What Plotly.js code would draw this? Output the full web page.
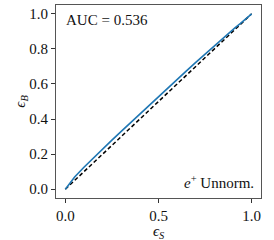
<!DOCTYPE html>
<html>
<head>
<meta charset="utf-8">
<script src="https://cdn.plot.ly/plotly-3.0.1.min.js"></script>
<style>html,body{margin:0;padding:0;background:#fff;}#chart{width:274px;height:240px;}</style>
</head>
<body>
<div id="chart"></div>
<script>
const sigEff = [0, 0.02, 0.05, 0.1, 0.15, 0.2, 0.25, 0.3, 0.35, 0.4, 0.45, 0.5, 0.55, 0.6, 0.65, 0.7, 0.75, 0.8, 0.85, 0.88, 0.91, 0.94, 0.96, 0.98, 1.0];
const bkgEff = [0, 0.03, 0.07, 0.125, 0.178, 0.23, 0.28, 0.33, 0.38, 0.43, 0.48, 0.53, 0.578, 0.627, 0.675, 0.723, 0.77, 0.818, 0.866, 0.895, 0.92, 0.945, 0.965, 0.985, 1.0];
const diagX = [0, 1];
const diagY = [0, 1];
const aucText = "AUC = 0.536";
const tagText = "<i>e</i><sup>+</sup> Unnorm.";
const xTitle = "<i>ϵ</i><sub><i>S</i></sub>";
const yTitle = "<i>ϵ</i><sub><i>B</i></sub>";
const xTicks = [0, 0.5, 1.0];
const xTickText = ["0.0", "0.5", "1.0"];
const yTicks = [0, 0.2, 0.4, 0.6, 0.8, 1.0];
const yTickText = ["0.0", "0.2", "0.4", "0.6", "0.8", "1.0"];

const font = {family: "Liberation Serif, serif", size: 15, color: "#111"};

const data = [
  {x: diagX, y: diagY, mode: "lines", line: {color: "#000", width: 1.5, dash: "4px,2.5px"}, hoverinfo: "skip"},
  {x: sigEff, y: bkgEff, mode: "lines", line: {color: "#1f77b4", width: 1.6}, hoverinfo: "skip"}
];

const axisCommon = {
  showline: true, mirror: true, linecolor: "#555", linewidth: 1,
  ticks: "outside", ticklen: 4, tickwidth: 1, tickcolor: "#333",
  showgrid: false, zeroline: false, tickfont: font
};

const layout = {
  width: 274, height: 240,
  margin: {l: 56, r: 13, t: 5, b: 42},
  paper_bgcolor: "#fff", plot_bgcolor: "#fff",
  showlegend: false,
  font: font,
  xaxis: Object.assign({}, axisCommon, {
    range: [-0.05, 1.05], tickvals: xTicks, ticktext: xTickText
  }),
  yaxis: Object.assign({}, axisCommon, {
    range: [-0.05, 1.05], tickvals: yTicks, ticktext: yTickText
  }),
  annotations: [
    {text: aucText, xref: "paper", yref: "paper", x: 0.04, y: 0.975, xanchor: "left", yanchor: "top", showarrow: false, font: font},
    {text: tagText, xref: "paper", yref: "paper", x: 0.975, y: 0.025, xanchor: "right", yanchor: "bottom", showarrow: false, font: font},
    {text: xTitle, xref: "paper", yref: "paper", x: 0.5, y: -0.175, xanchor: "center", yanchor: "middle", showarrow: false, font: font},
    {text: yTitle, xref: "paper", yref: "paper", x: -0.175, y: 0.5, xanchor: "center", yanchor: "middle", textangle: -90, showarrow: false, font: font}
  ]
};

Plotly.newPlot("chart", data, layout, {displayModeBar: false, staticPlot: true});
</script>
</body>
</html>
